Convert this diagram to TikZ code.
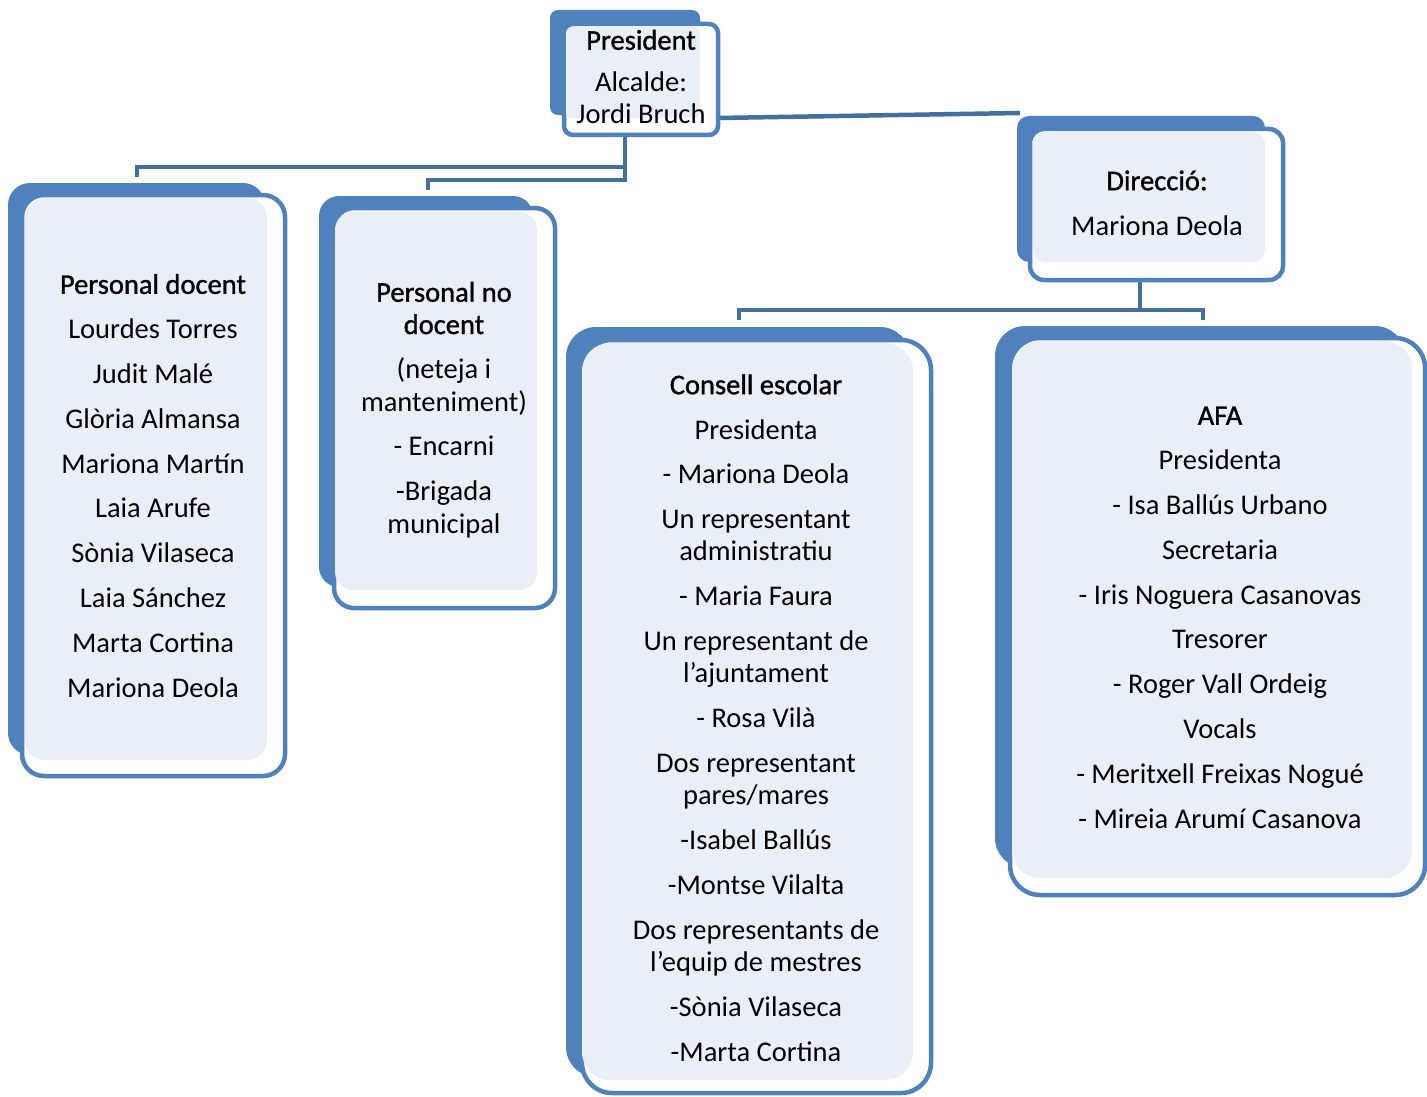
\documentclass[tikz,border=0pt]{standalone}
\usepackage{fontspec}
\setmainfont{Carlito}
\newfontfamily\headfont{Carlito}[FakeBold=1.2]
\usetikzlibrary{fit}
\definecolor{boxblue}{HTML}{4F81BD}
\definecolor{linkblue}{HTML}{44709F}
\definecolor{paleblue}{HTML}{EAEFF7}
\newcommand\hd[1]{{\headfont #1}}
\tikzset{
  backsty/.style={fill=boxblue, draw=none},
  outsty/.style={draw=boxblue, line width=4.5pt, fill=white, inner sep=0pt},
  palesty/.style={fill=paleblue, draw=none},
  link/.style={draw=linkblue, line width=4.5pt},
  txt/.style={align=center, inner sep=0pt, anchor=base,
    font=\fontsize{28.5}{32.3}\selectfont},
}
\begin{document}
\begin{tikzpicture}[x=1pt,y=-1pt]
\useasboundingbox (0,0) rectangle (1427,1097);

% connector points
\coordinate (presS) at (625,130);
\coordinate (j1) at (625,167);
\coordinate (j2) at (625,180);
\coordinate (pdT) at (137,177);
\coordinate (pndT) at (428,190);
\coordinate (presE) at (718,118);
\coordinate (dirW) at (1020,113);
\coordinate (dirS) at (1140,275);
\coordinate (j3) at (1140,310);
\coordinate (ceT) at (739,320);
\coordinate (afaT) at (1203,320);

% connectors
\draw[link] (presS) -- (j2) -| (pndT);
\draw[link] (j1) -| (pdT);
\draw[link] (presE) -- (dirW);
\draw[link] (dirS) -- (j3) -| (ceT);
\draw[link] (j3) -| (afaT);

% President
\fill[backsty, rounded corners=8pt] (550,10) rectangle (700,115);
\draw[outsty, rounded corners=9pt] (564,24) rectangle (718,135);
\fill[palesty, rounded corners=6pt] (566,27) rectangle (700,118);
\node[txt] (pres) at (641,124) {\hd{President}\\[9.7pt] Alcalde:\\ Jordi Bruch};

% Personal docent
\fill[backsty, rounded corners=22pt] (8,183) rectangle (265,755);
\draw[outsty, rounded corners=22pt] (22,195) rectangle (285,776);
\fill[palesty, rounded corners=20pt] (25,198) rectangle (267,760);
\node[txt] (pd) at (153,697) {\hd{Personal docent}\\[12.5pt] Lourdes Torres\\[12.5pt] Judit Malé\\[12.5pt] Glòria Almansa\\[12.5pt] Mariona Martín\\[12.5pt] Laia Arufe\\[12.5pt] Sònia Vilaseca\\[12.5pt] Laia Sánchez\\[12.5pt] Marta Cortina\\[12.5pt] Mariona Deola};

% Personal no docent
\fill[backsty, rounded corners=20pt] (319,196) rectangle (533,587);
\draw[outsty, rounded corners=20pt] (334,208) rectangle (555,608);
\fill[palesty, rounded corners=18pt] (335,212) rectangle (537,590);
\node[txt] (pnd) at (444,533) {\hd{Personal no}\\ \hd{docent}\\[12.5pt] (neteja i\\ manteniment)\\[12.5pt] - Encarni\\[12.5pt] -Brigada\\ municipal};

% Direccio
\fill[backsty, rounded corners=12pt] (1017,116) rectangle (1265,262);
\draw[outsty, rounded corners=14pt] (1030,129) rectangle (1283,280);
\fill[palesty, rounded corners=12pt] (1033,132) rectangle (1265,262);
\node[txt] (dir) at (1157,235) {\hd{Direcció:}\\[12.5pt] Mariona Deola};

% Consell escolar
\fill[backsty, rounded corners=30pt] (566,327) rectangle (910,1077);
\draw[outsty, rounded corners=30pt] (582,340) rectangle (931,1093);
\fill[palesty, rounded corners=28pt] (582,343) rectangle (913,1080);
\node[txt] (ce) at (756,1061) {\hd{Consell escolar}\\[12.5pt] Presidenta\\[12.5pt] - Mariona Deola\\[12.5pt] Un representant\\ administratiu\\[12.5pt] - Maria Faura\\[12.5pt] Un representant de\\ l’ajuntament\\[12.5pt] - Rosa Vilà\\[12.5pt] Dos representant\\ pares/mares\\[12.5pt] -Isabel Ballús\\[12.5pt] -Montse Vilalta\\[12.5pt] Dos representants de\\ l’equip de mestres\\[12.5pt] -Sònia Vilaseca\\[12.5pt] -Marta Cortina};

% AFA
\fill[backsty, rounded corners=30pt] (995,326) rectangle (1405,868);
\draw[outsty, rounded corners=30pt] (1010,338) rectangle (1425,895);
\fill[palesty, rounded corners=28pt] (1012,341) rectangle (1412,878);
\node[txt] (afa) at (1220,828) {\hd{AFA}\\[12.5pt] Presidenta\\[12.5pt] - Isa Ballús Urbano\\[12.5pt] Secretaria\\[12.5pt] - Iris Noguera Casanovas\\[12.5pt] Tresorer\\[12.5pt] - Roger Vall Ordeig\\[12.5pt] Vocals\\[12.5pt] - Meritxell Freixas Nogué\\[12.5pt] - Mireia Arumí Casanova};
\end{tikzpicture}
\end{document}
